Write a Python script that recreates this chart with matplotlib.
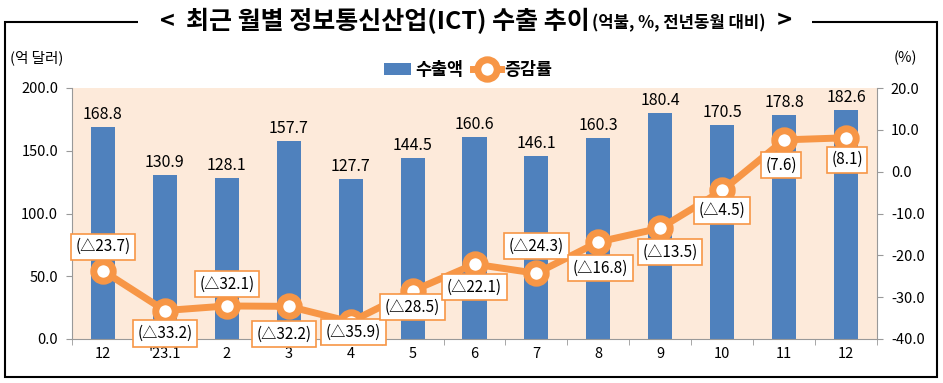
import matplotlib
matplotlib.use('Agg')
import matplotlib.pyplot as plt
from matplotlib.patches import Rectangle

plt.rcParams['font.family'] = ['Liberation Sans Narrow', 'Noto Sans CJK KR', 'DejaVu Sans']
kr = ['Noto Sans CJK KR', 'DejaVu Sans']

months = ['12', "'23.1", '2', '3', '4', '5', '6', '7', '8', '9', '10', '11', '12']
exports = [168.8, 130.9, 128.1, 157.7, 127.7, 144.5, 160.6, 146.1, 160.3, 180.4, 170.5, 178.8, 182.6]
growth = [-23.7, -33.2, -32.1, -32.2, -35.9, -28.5, -22.1, -24.3, -16.8, -13.5, -4.5, 7.6, 8.1]

# label offsets in pixels (dx, dy) relative to each point
lab_off = [(0, 24), (0, -23), (0, 22), (-5, -28), (3, -10), (0, -16), (0, -23),
           (0, 27), (2, -26), (10, -24), (0, -20), (-3, -25), (1, -22)]

blue = '#4F81BD'
orange = '#F79646'

fig = plt.figure(figsize=(9.43, 3.83), dpi=100)
ax = fig.add_axes([72/943, 1-339/383, 805/943, 251/383])
ax.set_facecolor('#FDEADA')

x = range(len(months))
ax.bar(x, exports, width=0.39, color=blue, zorder=2, label='수출액')
for i, v in enumerate(exports):
    ax.annotate('%.1f' % v, (i, v), xytext=(0, 4), textcoords='offset pixels',
                ha='center', va='bottom', fontsize=11.5)
ax.set_ylim(0, 200)
ax.set_xlim(-0.5, len(months)-0.5)
ax.set_yticks([0, 50, 100, 150, 200])
ax.set_yticklabels(['%.1f' % t for t in [0, 50, 100, 150, 200]], fontsize=10.5)
ax.set_xticks(list(x))
ax.set_xticklabels(months, fontsize=10.5)
ax.tick_params(axis='x', length=0, pad=6)
ax.set_xticks([i + 0.5 for i in range(-1, len(months))], minor=True)
ax.tick_params(axis='x', which='minor', length=4, color='#999999')
ax.tick_params(axis='y', length=4, color='#999999', pad=6)
for s in ['top', 'right']:
    ax.spines[s].set_visible(False)
ax.spines['left'].set_color('#999999')
ax.spines['bottom'].set_color('#999999')

ax2 = ax.twinx()
ax2.plot(x, growth, color=orange, lw=5, marker='o', ms=14, mfc='white',
         mec=orange, mew=5, zorder=3, label='증감률')
ax2.set_ylim(-40, 20)
ax2.set_yticks(range(-40, 21, 10))
ax2.set_yticklabels(['%.1f' % t for t in range(-40, 21, 10)], fontsize=10.5)
ax2.tick_params(axis='y', length=4, color='#999999', pad=6)
for s in ['top', 'left', 'bottom']:
    ax2.spines[s].set_visible(False)
ax2.spines['right'].set_color('#999999')

for i, g in enumerate(growth):
    txt = '(%.1f)' % g if g >= 0 else '(△%.1f)' % abs(g)
    ax2.annotate(txt, (i, g), xytext=lab_off[i], textcoords='offset pixels',
                 ha='center', va='center', fontsize=11, zorder=5,
                 bbox=dict(boxstyle='square,pad=0.3', fc='white', ec=orange, lw=1.2))

# legend
h1, l1 = ax.get_legend_handles_labels()
h2, l2 = ax2.get_legend_handles_labels()
fig.legend(h1 + h2, l1 + l2, loc='center', bbox_to_anchor=(468/943, 1-70/383),
           ncol=2, frameon=False, prop={'family': 'Noto Sans CJK KR', 'size': 12.5, 'weight': 'bold'},
           handlelength=1.6, columnspacing=0.6, handletextpad=0.2)

fig.text(10/943, 1-58/383, '(억 달러)', fontsize=10.5, va='center', ha='left', family=kr)
fig.text(905/943, 1-58/383, '(%)', fontsize=10.5, va='center', ha='center')

# outer frame
fig.add_artist(Rectangle((5/943, 1-377/383), 932/943, 355/383, transform=fig.transFigure,
                         fill=False, ec='black', lw=1.5))

# title made of three parts placed one after another, centred
r = fig.canvas.get_renderer()
t1 = fig.text(0, 1-21/383, '<  최근 월별 정보통신산업(ICT) 수출 추이', fontsize=18, weight='bold',
              va='center', ha='left', family=kr, zorder=10)
t2 = fig.text(0, 1-23/383, '(억불, %, 전년동월 대비)', fontsize=12, weight='bold',
              va='center', ha='left', family=kr, zorder=10)
t3 = fig.text(0, 1-21/383, '  >', fontsize=18, weight='bold',
              va='center', ha='left', family=kr, zorder=10)
w = [t.get_window_extent(r).width for t in (t1, t2, t3)]
x0 = 475 - sum(w) / 2
t1.set_x(x0 / 943)
t2.set_x((x0 + w[0] + 2) / 943)
t3.set_x((x0 + w[0] + w[1] + 2) / 943)
gap = 22
fig.add_artist(Rectangle(((x0 - gap) / 943, 1-31/383), (sum(w) + 2 * gap) / 943, 20/383,
                         transform=fig.transFigure, fc='white', ec='none', zorder=5))

fig.savefig('out.png', dpi=100)
